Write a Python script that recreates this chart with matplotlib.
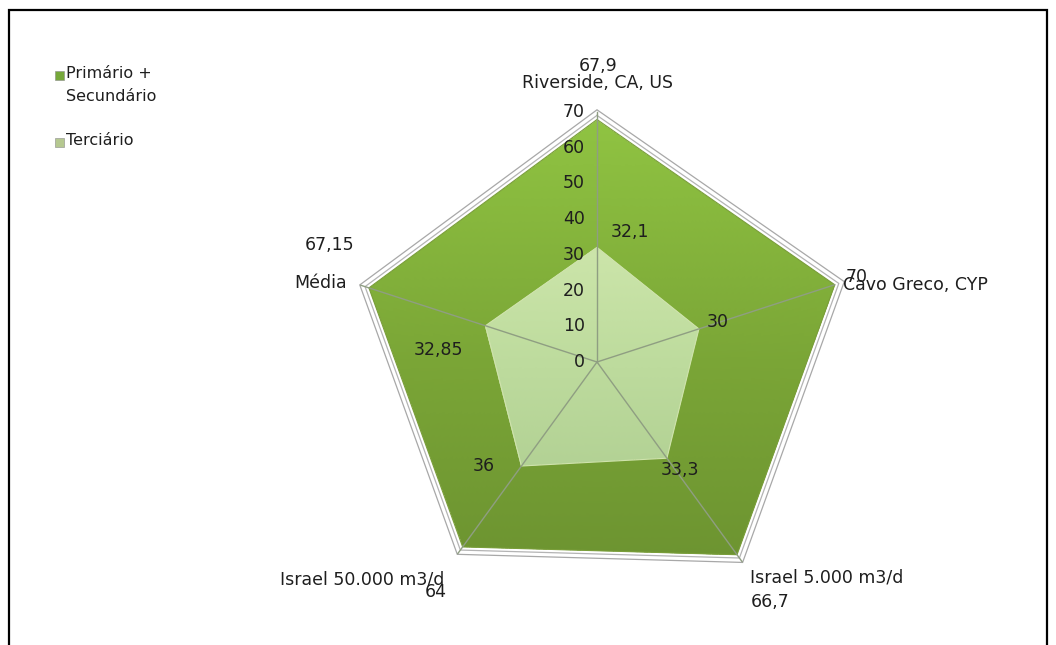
import numpy as np
import matplotlib
matplotlib.use("Agg")
import matplotlib.pyplot as plt
from matplotlib.colors import LinearSegmentedColormap
from matplotlib.transforms import offset_copy
from matplotlib.patches import Rectangle

# ---- data -------------------------------------------------------------
categories = ["Riverside, CA, US", "Cavo Greco, CYP", "Israel 5.000 m3/d",
              "Israel 50.000 m3/d", "Média"]
primario_secundario = [67.9, 70, 66.7, 64, 67.15]
terciario = [32.1, 30, 33.3, 36, 32.85]
radial_ticks = [0, 10, 20, 30, 40, 50, 60, 70]
series_names = ["Primário +\nSecundário", "Terciário"]

plt.rcParams["font.family"] = ["DejaVu Sans"]
TXT = "#1e1e1e"
FS = 12.5


def fmt(v):
    return f"{v:g}".replace(".", ",")


fig = plt.figure(figsize=(10.56, 6.45), dpi=100)
W, H = 1056, 645
RMAX = 75
rad_px = 250 * RMAX / 70
cx, cy = 597, H - 362
ax = fig.add_axes([(cx - rad_px) / W, (cy - rad_px) / H, 2 * rad_px / W, 2 * rad_px / H],
                  projection="polar")
ax.set_theta_offset(np.pi / 2)
ax.set_theta_direction(-1)
ax.set_ylim(0, RMAX)
ax.grid(False)
ax.set_xticks([])
ax.set_yticks([])
ax.spines["polar"].set_visible(False)
ax.patch.set_alpha(0)

n = len(categories)
theta = np.arange(n) * 2 * np.pi / n
th_closed = np.append(theta, theta[0])


def closed(vals, k=1.0):
    v = np.asarray(vals, dtype=float) * k
    return np.append(v, v[0])


# bevel / shadow rim around the outer series
rim = ax.fill(th_closed, closed(primario_secundario, 1.04), facecolor="white",
              edgecolor="#a8a8a8", lw=0.9, zorder=1)[0]
ax.plot(th_closed, closed(primario_secundario, 1.017), color="#b4b4b4", lw=0.9, zorder=1.2)

# vertical gradient helper
tt = np.linspace(0, 2 * np.pi, 361)
rr = np.linspace(0, RMAX, 151)
tc = 0.5 * (tt[:-1] + tt[1:])
rc = 0.5 * (rr[:-1] + rr[1:])
T, R = np.meshgrid(tc, rc)
vertical = R * np.cos(T)


def gradient_fill(vals, colors, z, edge):
    poly = ax.fill(th_closed, closed(vals), facecolor="none", edgecolor=edge,
                   lw=0.8, zorder=z + 0.1)[0]
    cmap = LinearSegmentedColormap.from_list("g", colors)
    mesh = ax.pcolormesh(tt, rr, vertical, cmap=cmap, vmin=-70, vmax=70,
                         shading="flat", edgecolors="none", antialiased=False, zorder=z)
    mesh.set_clip_path(poly)
    return poly


gradient_fill(primario_secundario, ["#698f2f", "#7aa536", "#90c442"], 2, "#7a9e3a")
gradient_fill(terciario, ["#a4c488", "#bddb9d", "#ddf0b8"], 3, "#cfe3ac")

# spokes, kept inside the series rim
for t in theta:
    sp = ax.plot([t, t], [0, 70], color="#8f9e82", lw=1.0, zorder=4)[0]
    sp.set_clip_path(rim)

# radial tick labels along the first spoke
for v in radial_ticks:
    ax.text(0, v, str(v), ha="right", va="center", fontsize=FS, color=TXT, zorder=6,
            transform=offset_copy(ax.transData, fig=fig, x=-12, y=0, units="dots"))


def label(t, r, s, dx, dy, ha="center", va="center"):
    ax.text(t, r, s, ha=ha, va=va, fontsize=FS, color=TXT, zorder=6,
            transform=offset_copy(ax.transData, fig=fig, x=dx, y=dy, units="dots"))


# data labels - tertiary
ter_off = [(33, 15), (19, 7), (13, -12), (-38, 0), (-47, -24)]
for t, v, (dx, dy) in zip(theta, terciario, ter_off):
    label(t, v, fmt(v), dx, dy)

# data labels - primary + secondary
pri_off = [(1, 54), (22, 8), (33, -47), (-27, -45), (-39, 43)]
for t, v, (dx, dy) in zip(theta, primario_secundario, pri_off):
    label(t, v, fmt(v), dx, dy)

# category labels
cat_off = [(0, 29, "center"), (8, 0, "left"), (6, -13, "left"),
           (-6, -15, "right"), (-12, 2, "right")]
for t, c, (dx, dy, ha) in zip(theta, categories, cat_off):
    label(t, 70, c, dx, dy, ha=ha)

# legend
sw_colors = ["#76a83a", "#b5c890"]
leg_y = [75, 142]
for name, col, y in zip(series_names, sw_colors, leg_y):
    fig.patches.append(Rectangle((55 / W, (H - y - 5) / H), 9 / W, 9 / H,
                                 transform=fig.transFigure, facecolor=col,
                                 edgecolor="#8a8a8a", lw=0.4))
    fig.text(66 / W, (H - y + 9) / H, name, ha="left", va="top", fontsize=11.5,
             color=TXT, linespacing=1.65)

# chart frame
fig.patches.append(Rectangle((9 / W, -0.1), 1038 / W, (H - 10) / H + 0.1,
                             transform=fig.transFigure, facecolor="none",
                             edgecolor="black", lw=1.6))

fig.savefig("out.png", dpi=100, facecolor="white")
